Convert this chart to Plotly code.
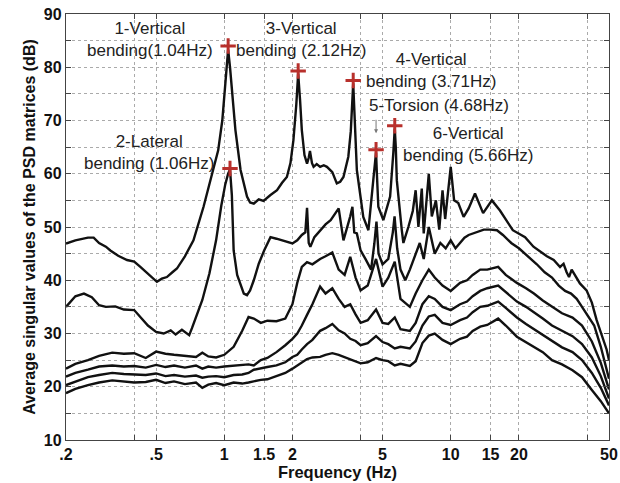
import math
import plotly.graph_objects as go

# ---------------- data ----------------
# Curve 1 (first singular value)
f1 = [0.2, 0.22, 0.25, 0.265, 0.28, 0.3, 0.314, 0.34, 0.372, 0.4, 0.426, 0.46, 0.504, 0.53, 0.558, 0.59,
      0.618, 0.67, 0.731, 0.81, 0.896, 0.94, 0.98, 1.01, 1.03, 1.04, 1.06, 1.094, 1.12, 1.18, 1.26, 1.3,
      1.35, 1.42, 1.49, 1.6, 1.71, 1.8, 1.89, 1.96, 2.02, 2.08, 2.12, 2.16, 2.2, 2.26, 2.32, 2.36, 2.39,
      2.44, 2.48, 2.56, 2.65, 2.75, 2.84, 3.0, 3.14, 3.25, 3.36, 3.53, 3.62, 3.71, 3.78, 3.85, 4.11, 4.33,
      4.55, 4.65, 4.68, 4.72, 4.79, 5.04, 5.4, 5.58, 5.66, 5.72, 5.78, 6.08, 6.18, 6.5, 6.8, 7.0, 7.2,
      7.45, 7.6, 8.0, 8.25, 8.6, 8.9, 9.2, 9.45, 10.0, 10.35, 10.8, 11.4, 12.0, 12.8, 13.9, 15.2, 16.5,
      18.8, 21.3, 23.2, 26.6, 28.5, 30.4, 31.5, 32.5, 33.3, 34.2, 35.5, 37.2, 39.8, 42.0, 44.1, 46.5,
      48.8, 50.0]
v1 = [46.9, 47.5, 48.0, 48.0, 47.0, 46.3, 45.6, 44.6, 43.8, 43.5, 42.5, 41.2, 39.7, 40.3, 40.6, 41.5,
      42.2, 44.5, 47.5, 53.8, 60.7, 64.4, 70.0, 77.0, 82.0, 83.3, 80.0, 73.8, 68.2, 60.7, 55.7, 54.6,
      54.4, 55.2, 54.9, 56.0, 56.9, 58.3, 59.4, 62.0, 66.3, 73.0, 78.8, 74.0, 68.2, 63.5, 61.9, 63.0, 64.3,
      62.0, 61.3, 61.8, 61.3, 61.6, 61.3, 60.3, 58.2, 58.5, 59.4, 63.2, 68.0, 77.0, 68.0, 60.7, 51.9, 49.4,
      58.8, 62.5, 64.0, 60.0, 53.8, 51.3, 55.7, 64.0, 68.5, 65.0, 58.8, 49.4, 47.0, 50.0, 53.0, 56.9, 50.0,
      57.2, 48.8, 60.0, 52.0, 55.0, 49.5, 56.9, 51.5, 61.3, 55.0, 54.5, 51.9, 53.5, 56.3, 52.6, 55.0, 53.1,
      49.4, 48.1, 46.3, 44.5, 43.8, 42.5, 43.1, 41.5, 40.6, 42.0, 40.8, 39.4, 38.1, 35.8, 32.5, 29.5,
      27.0, 25.0]

# Curve 2 (second singular value)
f2 = [0.2, 0.22, 0.24, 0.26, 0.28, 0.3, 0.33, 0.36, 0.4, 0.43, 0.46, 0.5, 0.54, 0.58, 0.61, 0.65, 0.7,
      0.72, 0.75, 0.8, 0.86, 0.92, 0.97, 1.01, 1.04, 1.06, 1.08, 1.1, 1.14, 1.18, 1.22, 1.26, 1.3, 1.35,
      1.42, 1.5, 1.6, 1.7, 1.8, 1.9, 2.0, 2.1, 2.2, 2.28, 2.32, 2.36, 2.4, 2.5, 2.65, 2.8, 2.95, 3.1, 3.2,
      3.36, 3.5, 3.6, 3.68, 3.75, 3.85, 4.0, 4.2, 4.45, 4.6, 4.7, 4.8, 5.0, 5.3, 5.55, 5.65, 5.8, 6.0,
      6.3, 6.6, 7.0, 7.3, 7.6, 8.0, 8.5, 9.0, 9.5, 10.0, 10.5, 11.0, 11.5, 12.0, 13.0, 14.0, 15.0, 16.0,
      17.0, 18.5, 20.0, 22.0, 24.0, 26.0, 28.0, 30.0, 32.0, 34.0, 36.0, 38.0, 40.0, 43.0, 46.0, 50.0]
v2 = [35.0, 37.0, 37.5, 36.8, 35.3, 35.0, 35.1, 34.5, 34.4, 32.8, 31.5, 30.3, 30.0, 30.6, 29.8, 30.7, 29.7,
      31.0, 33.1, 36.3, 41.3, 47.5, 54.0, 58.0, 60.0, 60.8, 56.0, 45.6, 41.0, 39.4, 37.5, 37.2, 38.1, 40.0,
      43.1, 45.6, 48.1, 47.8, 47.5, 47.2, 46.9, 47.5, 48.5, 49.0, 53.6, 47.0, 46.3, 48.1, 49.4, 50.5, 51.3,
      52.5, 53.5, 47.5, 50.0, 52.0, 53.8, 49.0, 48.8, 45.6, 44.0, 42.0, 46.9, 51.0, 45.0, 43.0, 44.0, 49.0,
      52.0, 46.0, 42.0, 40.0, 42.0, 45.0, 47.0, 44.0, 50.0, 45.0, 47.0, 46.0, 47.5, 46.0, 47.0, 48.0, 48.5,
      49.0, 49.5, 49.5, 49.4, 48.5, 47.0, 46.0, 44.5, 43.0, 41.5, 40.5, 39.0, 38.0, 37.5, 36.5, 35.0, 33.5,
      31.5, 27.5, 21.5]

# Curves 3-6 (lower singular values), shared frequency list
f_low = [0.2, 0.22, 0.25, 0.28, 0.32, 0.36, 0.4, 0.45, 0.5, 0.55, 0.6, 0.67, 0.75, 0.8, 0.85, 0.92, 1.0,
         1.1, 1.2, 1.28, 1.35, 1.45, 1.55, 1.7, 1.86, 2.0, 2.1, 2.2, 2.32, 2.45, 2.65, 2.8, 3.0, 3.2, 3.4,
         3.6, 3.8, 4.0, 4.3, 4.68, 5.0, 5.3, 5.66, 6.0, 6.6, 7.0, 7.5, 8.0, 8.5, 9.2, 10.0, 11.0, 11.8,
         12.5, 13.5, 14.5, 16.2, 17.5, 19.6, 21.5, 23.3, 25.5, 28.0, 31.0, 34.5, 38.0, 42.0, 46.0, 50.0]
v3 = [23.4, 24.3, 25.0, 25.8, 26.4, 26.2, 26.3, 25.4, 26.6, 26.2, 26.0, 25.8, 25.6, 26.4, 25.7, 25.5, 26.0,
      27.5, 30.5, 33.1, 32.8, 32.0, 32.4, 32.3, 32.8, 35.5, 39.5, 42.5, 43.4, 43.0, 44.0, 44.5, 45.2, 42.0,
      41.0, 44.4, 40.5, 38.1, 39.0, 44.0, 38.8, 40.5, 43.5, 36.5, 35.0, 37.5, 40.0, 42.0, 40.5, 39.0, 38.0,
      39.5, 40.0, 41.0, 42.0, 42.0, 42.5, 41.0, 39.5, 38.5, 37.5, 36.2, 35.0, 33.8, 33.0, 31.5, 28.5, 24.5,
      19.5]
v4 = [21.9, 22.6, 23.2, 23.8, 24.0, 23.8, 23.9, 23.6, 24.1, 23.7, 24.0, 23.6, 24.0, 23.4, 23.8, 23.6, 23.8,
      23.9, 24.0, 24.2, 24.0, 25.0, 25.4, 26.5, 27.8, 29.0, 30.0, 31.5, 33.5, 35.5, 38.8, 37.5, 38.5, 36.5,
      35.0, 35.5, 33.6, 32.0, 32.5, 34.5, 32.0, 31.8, 33.0, 30.8, 30.5, 32.0, 35.5, 37.0, 36.5, 35.0, 34.4,
      35.5, 36.0, 37.0, 38.0, 38.5, 39.0, 37.8, 36.0, 35.0, 34.0, 32.8, 31.5, 30.5, 29.5, 28.0, 25.5, 22.0,
      17.8]
v5 = [20.3, 21.0, 21.8, 22.2, 22.6, 22.4, 22.3, 22.2, 22.5, 22.0, 22.2, 21.9, 22.1, 21.7, 21.9, 22.0, 21.8,
      22.2, 22.3, 22.6, 23.2, 23.5, 23.7, 24.0, 24.6, 25.6, 26.0, 27.0, 28.0, 28.8, 30.5, 31.0, 31.8, 30.6,
      30.0, 29.0, 28.6, 27.8, 28.2, 29.5, 28.4, 28.0, 27.2, 27.5, 27.2, 28.5, 31.5, 33.2, 33.5, 32.0, 31.6,
      32.5, 33.0, 34.0, 35.0, 35.2, 36.0, 34.8, 33.0, 31.8, 30.8, 29.8, 28.5, 27.4, 26.5, 25.0, 22.6, 19.8,
      16.5]
v6 = [18.8, 19.6, 20.3, 20.8, 21.2, 21.0, 20.8, 20.9, 21.3, 20.7, 21.0, 20.5, 20.8, 19.8, 20.4, 20.7, 20.3,
      20.8, 20.6, 20.8, 21.0, 21.3, 21.4, 22.0, 22.6, 23.4, 24.0, 24.6, 25.2, 25.5, 25.6, 26.0, 26.3, 26.0,
      25.6, 25.2, 24.8, 24.4, 24.6, 25.4, 25.0, 24.8, 24.0, 24.3, 23.9, 24.8, 28.2, 29.6, 30.0, 28.8, 28.0,
      29.0, 29.4, 30.5, 31.3, 31.6, 32.8, 31.5, 29.4, 28.4, 27.5, 26.5, 25.0, 24.2, 23.1, 21.8, 19.4, 17.3,
      15.0]

# Identified modes (red crosses)
mode_f = [1.04, 1.06, 2.12, 3.71, 4.68, 5.66]
mode_db = [84.0, 61.0, 79.3, 77.5, 64.5, 69.0]

x_tickvals = [0.2, 0.4, 0.5, 1, 1.5, 2, 4, 5, 10, 15, 20, 40, 50]
x_ticktext = [".2", "", ".5", "1", "1.5", "2", "", "5", "10", "15", "20", "", "50"]
y_tickvals = [10, 15, 20, 25, 30, 35, 40, 45, 50, 55, 60, 65, 70, 75, 80, 85, 90]
y_ticktext = ["10", "", "20", "", "30", "", "40", "", "50", "", "60", "", "70", "", "80", "", "90"]

labels = [
    ("1-Vertical<br>bending(1.04Hz)", 0.155, 0.939),
    ("3-Vertical<br>bending (2.12Hz)", 0.432, 0.939),
    ("2-Lateral<br>bending (1.06Hz)", 0.152, 0.676),
    ("4-Vertical<br>bending (3.71Hz)", 0.672, 0.8685),
    ("5-Torsion (4.68Hz)", 0.687, 0.786),
    ("6-Vertical<br>bending (5.66Hz)", 0.7405, 0.6925),
]

# ---------------- figure ----------------
fig = go.Figure()
for fx, vy in [(f_low, v6), (f_low, v5), (f_low, v4), (f_low, v3), (f2, v2), (f1, v1)]:
    fig.add_trace(go.Scatter(x=fx, y=vy, mode="lines",
                             line=dict(color="#111111", width=2.4),
                             showlegend=False, hoverinfo="skip"))

fig.add_trace(go.Scatter(x=mode_f, y=mode_db, mode="markers",
                         marker=dict(symbol="cross-thin", size=11, color="#b8302c",
                                     line=dict(color="#b8302c", width=3)),
                         showlegend=False, hoverinfo="skip"))

font_txt = dict(family="Liberation Sans, Arial, sans-serif", size=17, color="#222222")
for txt, xp, yp in labels:
    fig.add_annotation(text=txt, x=xp, y=yp, xref="paper", yref="paper",
                       xanchor="center", yanchor="middle", align="center",
                       showarrow=False, font=font_txt)

# small arrow pointing to torsion mode
fig.add_annotation(x=math.log10(4.68), y=67.6, xref="x", yref="y", text="",
                   showarrow=True, ax=0, ay=-15, arrowhead=2, arrowsize=0.8,
                   arrowwidth=1, arrowcolor="#777777")

axis_font = dict(family="Liberation Sans, Arial, sans-serif", size=16, color="#111111", weight="bold")
fig.update_xaxes(type="log", range=[math.log10(0.2), math.log10(50)], automargin=False,
                 tickvals=x_tickvals, ticktext=x_ticktext, tickfont=axis_font,
                 ticklabeloverflow="allow",
                 showgrid=True, gridcolor="#aaaaaa", griddash="dot", gridwidth=1,
                 showline=True, linecolor="#444444", linewidth=1.2, mirror="ticks",
                 ticks="inside", ticklen=5, tickcolor="#444444",
                 title=dict(text="Frequency (Hz)", standoff=0,
                            font=dict(family="Liberation Sans, Arial, sans-serif", size=16.5,
                                      color="#111111", weight="bold")),
                 zeroline=False)
fig.update_yaxes(range=[10, 90], automargin=False,
                 tickvals=y_tickvals, ticktext=y_ticktext, tickfont=axis_font,
                 ticklabeloverflow="allow",
                 showgrid=True, gridcolor="#aaaaaa", griddash="dot", gridwidth=1,
                 showline=True, linecolor="#444444", linewidth=1.2, mirror="ticks",
                 ticks="inside", ticklen=5, tickcolor="#444444",
                 title=dict(text="Average singular values of the PSD matrices (dB)", standoff=4,
                            font=dict(family="Liberation Sans, Arial, sans-serif", size=16,
                                      color="#111111", weight="bold")),
                 zeroline=False)

fig.update_layout(width=620, height=483, margin=dict(l=66, r=11, t=14, b=43),
                  plot_bgcolor="white", paper_bgcolor="white", hovermode=False)

# remove the default page margin so the figure fills the window exactly
fig.write_html("out.html", config={"displayModeBar": False, "staticPlot": True},
               post_script="document.body.style.margin='0';document.body.style.overflow='hidden';")
